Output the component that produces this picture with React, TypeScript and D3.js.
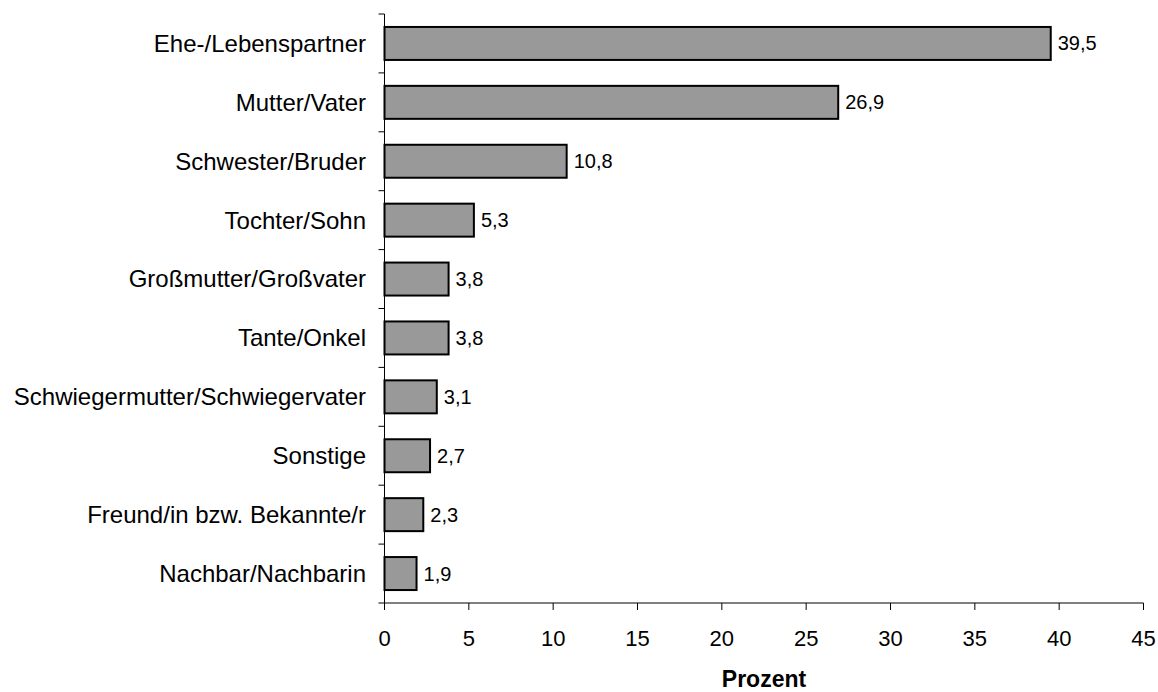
import React from "react";
import * as d3 from "d3";

const categories = [
  "Ehe-/Lebenspartner",
  "Mutter/Vater",
  "Schwester/Bruder",
  "Tochter/Sohn",
  "Großmutter/Großvater",
  "Tante/Onkel",
  "Schwiegermutter/Schwiegervater",
  "Sonstige",
  "Freund/in bzw. Bekannte/r",
  "Nachbar/Nachbarin",
];
const values = [39.5, 26.9, 10.8, 5.3, 3.8, 3.8, 3.1, 2.7, 2.3, 1.9];
const xTicks = [0, 5, 10, 15, 20, 25, 30, 35, 40, 45];
const xTitle = "Prozent";

const W = 1158;
const H = 692;
const left = 384.5;
const right = 1143.5;
const top = 14;
const bottom = 603;
const font = "'Liberation Sans', Arial, sans-serif";

export default function App() {
  const x = d3.scaleLinear().domain([0, 45]).range([left, right]);
  const y = d3
    .scaleBand<string>()
    .domain(categories)
    .range([top, bottom])
    .paddingInner(0.44)
    .paddingOuter(0.22);
  const step = y.step();
  const fmt = (v: number) => v.toFixed(1).replace(".", ",");

  return (
    <svg
      width={W}
      height={H}
      style={{ position: "absolute", left: 0, top: 0 }}
      fontFamily={font}
    >
      <rect width={W} height={H} fill="#fff" />
      {categories.map((c, i) => (
        <g key={c}>
          <rect
            x={x(0)}
            y={y(c)!}
            width={x(values[i]) - x(0)}
            height={y.bandwidth()}
            fill="#999999"
            stroke="#000"
            strokeWidth={2}
          />
          <text
            x={x(values[i]) + 7}
            y={y(c)! + y.bandwidth() / 2}
            dy="0.35em"
            fontSize={20}
            fill="#000"
          >
            {fmt(values[i])}
          </text>
          <text
            x={366}
            y={y(c)! + y.bandwidth() / 2}
            dy="0.35em"
            fontSize={24}
            textAnchor="end"
            fill="#000"
          >
            {c}
          </text>
        </g>
      ))}
      {/* y axis */}
      <line x1={left} x2={left} y1={top} y2={bottom} stroke="#000" strokeWidth={1} />
      {d3.range(categories.length + 1).map((i) => (
        <line
          key={i}
          x1={left - 6}
          x2={left}
          y1={top + i * step}
          y2={top + i * step}
          stroke="#000"
          strokeWidth={1}
        />
      ))}
      {/* x axis */}
      <line x1={left} x2={right} y1={bottom} y2={bottom} stroke="#000" strokeWidth={1} />
      {xTicks.map((t) => (
        <g key={t}>
          <line x1={x(t)} x2={x(t)} y1={bottom} y2={bottom + 7} stroke="#000" strokeWidth={1} />
          <text x={x(t)} y={646} textAnchor="middle" fontSize={22} fill="#000">
            {t}
          </text>
        </g>
      ))}
      <text
        x={(left + right) / 2}
        y={687}
        textAnchor="middle"
        fontSize={23}
        fontWeight="bold"
        fill="#000"
      >
        {xTitle}
      </text>
    </svg>
  );
}
